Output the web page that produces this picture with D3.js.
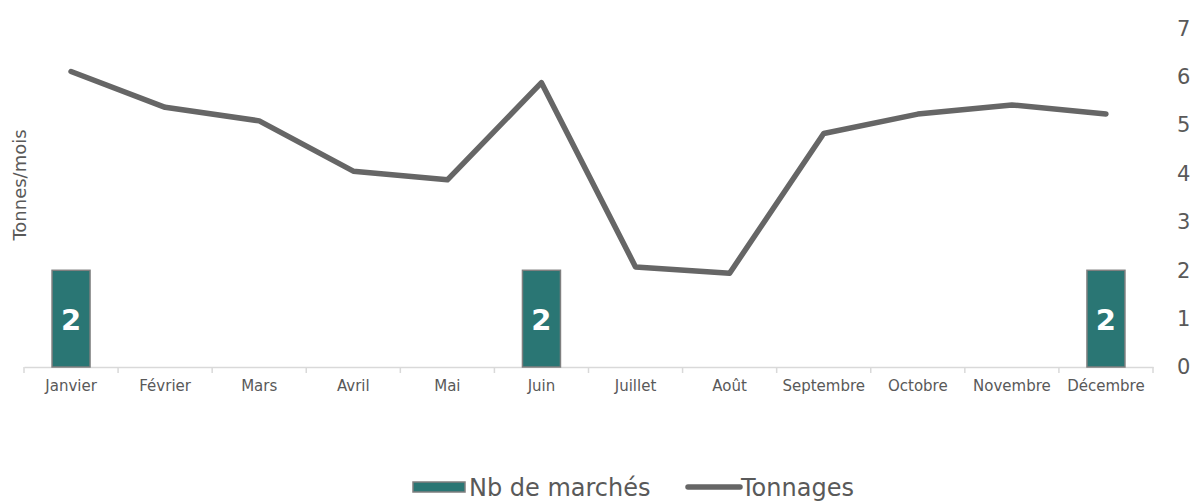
<!DOCTYPE html>
<html>
<head>
<meta charset="utf-8">
<script src="https://d3js.org/d3.v7.min.js"></script>
<style>
body { margin:0; background:#fff; }
text { font-family: "DejaVu Sans", Verdana, sans-serif; fill:#595959; }
</style>
</head>
<body>
<svg width="1194" height="504"></svg>
<script>
var mois = ["Janvier","Février","Mars","Avril","Mai","Juin","Juillet","Août","Septembre","Octobre","Novembre","Décembre"];
var nbMarches = [2,0,0,0,0,2,0,0,0,0,0,2];
var tonnages = [6.11,5.37,5.09,4.05,3.87,5.88,2.07,1.94,4.83,5.23,5.42,5.23];
var yTicks = [0,1,2,3,4,5,6,7];

var svg = d3.select("svg");
var x = d3.scaleBand().domain(mois).range([24,1153]);
var y = d3.scaleLinear().domain([0,7]).range([367,28.5]);

// axe x
var xa = svg.append("g").attr("transform","translate(0,367)")
  .call(d3.axisBottom(x).tickSize(0).tickPadding(13));
xa.select(".domain").attr("stroke","#d9d9d9").attr("stroke-width",1.5);
xa.selectAll("text").style("font-size","15px").style("fill","#595959");
svg.append("g").selectAll("line")
  .data(d3.range(mois.length+1)).enter().append("line")
  .attr("x1",function(i){ return 24 + i*x.step(); })
  .attr("x2",function(i){ return 24 + i*x.step(); })
  .attr("y1",367).attr("y2",373)
  .attr("stroke","#d9d9d9").attr("stroke-width",1.5);

// axe y droite
var ya = svg.append("g").attr("transform","translate(1177,0)")
  .call(d3.axisRight(y).tickValues(yTicks).tickFormat(d3.format("d")).tickSize(0).tickPadding(0));
ya.select(".domain").remove();
ya.selectAll("text").style("font-size","21px").style("fill","#595959");

svg.append("text").text("Tonnes/mois")
  .attr("transform","translate(26,185) rotate(-90)")
  .attr("text-anchor","middle")
  .style("font-size","18px");

// barres
var bw = 38;
var bars = mois.map(function(m,i){ return {m:m, v:nbMarches[i]}; }).filter(function(d){ return d.v > 0; });
svg.selectAll("rect.bar").data(bars).enter().append("rect")
  .attr("class","bar")
  .attr("x",function(d){ return x(d.m) + x.bandwidth()/2 - bw/2; })
  .attr("y",function(d){ return y(d.v); })
  .attr("width",bw)
  .attr("height",function(d){ return y(0) - y(d.v); })
  .attr("fill","#2a7674")
  .attr("stroke","#7f7f7f").attr("stroke-width",1.5);
svg.selectAll("text.lbl").data(bars).enter().append("text")
  .attr("class","lbl")
  .attr("x",function(d){ return x(d.m) + x.bandwidth()/2; })
  .attr("y",function(d){ return (y(d.v)+y(0))/2 + 11; })
  .attr("text-anchor","middle")
  .style("font-size","29px").style("font-weight","bold").style("fill","#fff")
  .text(function(d){ return d.v; });

// ligne
var line = d3.line()
  .x(function(d,i){ return x(mois[i]) + x.bandwidth()/2; })
  .y(function(d){ return y(d); });
svg.append("path").datum(tonnages)
  .attr("d",line)
  .attr("fill","none")
  .attr("stroke","#666666")
  .attr("stroke-width",5.5)
  .attr("stroke-linecap","round")
  .attr("stroke-linejoin","round");

// légende
var lg = svg.append("g");
lg.append("rect").attr("x",413).attr("y",482).attr("width",52).attr("height",10)
  .attr("fill","#2a7674").attr("stroke","#7f7f7f").attr("stroke-width",1.5);
lg.append("text").attr("x",469).attr("y",496).style("font-size","24px").text("Nb de marchés");
lg.append("line").attr("x1",688).attr("x2",740).attr("y1",487).attr("y2",487)
  .attr("stroke","#666666").attr("stroke-width",5.5).attr("stroke-linecap","round");
lg.append("text").attr("x",741).attr("y",496).style("font-size","24px").text("Tonnages");
</script>
</body>
</html>
